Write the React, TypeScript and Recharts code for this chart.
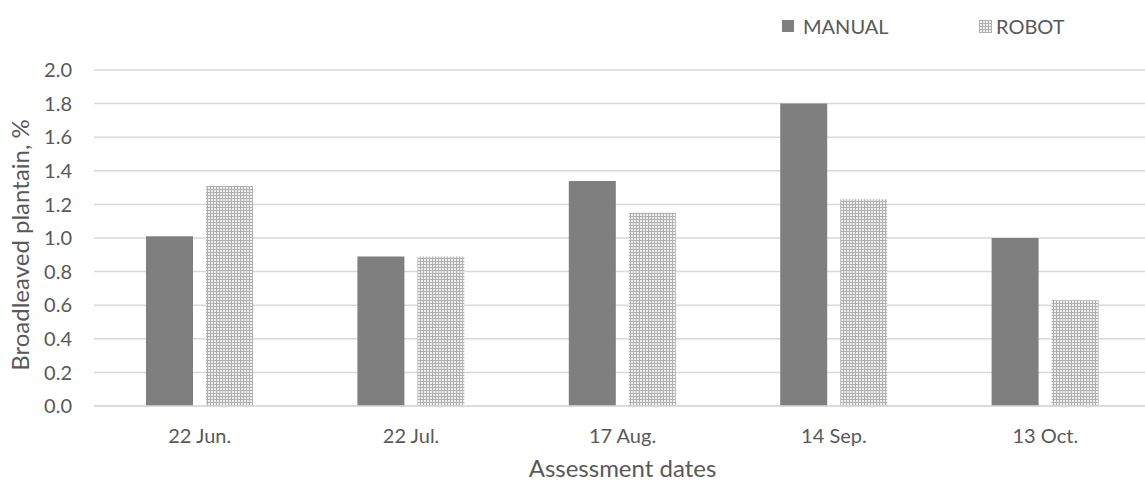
import React from 'react';
import { BarChart, Bar, XAxis, YAxis, CartesianGrid } from 'recharts';

// values
const dates = ['22 Jun.', '22 Jul.', '17 Aug.', '14 Sep.', '13 Oct.'];
const manual = [1.01, 0.89, 1.34, 1.8, 1.0];
const robot = [1.31, 0.89, 1.15, 1.23, 0.63];
const yTicks = [0, 0.2, 0.4, 0.6, 0.8, 1.0, 1.2, 1.4, 1.6, 1.8, 2.0];

const data = dates.map((d, i) => ({ date: d, manual: manual[i], robot: robot[i] }));

const FONT = 'Lato, "Open Sans", sans-serif';
const TEXT = '#595959';

const legendText: React.CSSProperties = {
  position: 'absolute',
  top: 13,
  fontFamily: FONT,
  fontSize: 20,
  lineHeight: '26px',
  color: TEXT,
};

export default function App() {
  return (
    <div style={{ position: 'absolute', left: 0, top: 0, width: 1145, height: 483, overflow: 'hidden', background: '#fff' }}>
      <BarChart
        width={1160}
        height={483}
        data={data}
        margin={{ top: 70, right: 9, left: 0, bottom: 0 }}
        barSize={47}
        barGap={13}
      >
        <defs>
          <pattern id="robotDots" width={3} height={3} patternUnits="userSpaceOnUse">
            <rect width={3} height={3} fill="#b0b0b0" />
            <rect x={1} y={1} width={2} height={2} fill="#efefef" />
          </pattern>
        </defs>
        <CartesianGrid vertical={false} stroke="#d9d9d9" strokeWidth={1.5} />
        <XAxis
          dataKey="date"
          height={77}
          axisLine={{ stroke: '#d9d9d9', strokeWidth: 1.5 }}
          tickLine={false}
          tickMargin={17}
          tick={{ fill: TEXT, fontSize: 20, fontFamily: FONT }}
          label={{
            value: 'Assessment dates',
            position: 'insideBottom',
            offset: 6,
            fill: TEXT,
            fontSize: 24,
            fontFamily: FONT,
          }}
        />
        <YAxis
          width={94}
          domain={[0, 2]}
          ticks={yTicks}
          interval={0}
          axisLine={false}
          tickLine={false}
          tickMargin={16}
          tickFormatter={(v: number) => v.toFixed(1)}
          tick={{ fill: TEXT, fontSize: 20, fontFamily: FONT }}
          label={{
            content: () => (
              <text
                x={29}
                y={245}
                transform="rotate(-90 29 245)"
                textAnchor="middle"
                fill={TEXT}
                fontSize={24}
                fontFamily={FONT}
              >
                Broadleaved plantain, %
              </text>
            ),
          }}
        />
        <Bar dataKey="manual" name="MANUAL" fill="#7f7f7f" isAnimationActive={false} />
        <Bar dataKey="robot" name="ROBOT" fill="url(#robotDots)" isAnimationActive={false} />
      </BarChart>

      {/* legend */}
      <span style={{ position: 'absolute', left: 782, top: 20, width: 12, height: 12, background: '#7f7f7f' }} />
      <span style={{ ...legendText, left: 803 }}>MANUAL</span>
      <svg width={13} height={13} style={{ position: 'absolute', left: 979, top: 20 }}>
        <rect width={13} height={13} fill="url(#robotDots)" />
      </svg>
      <span style={{ ...legendText, left: 996 }}>ROBOT</span>
    </div>
  );
}
